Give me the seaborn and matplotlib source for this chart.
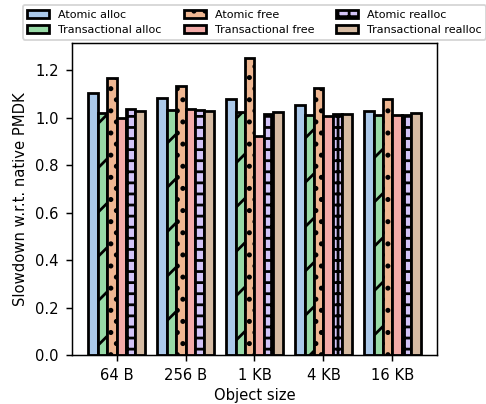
import pandas as pd
import matplotlib
matplotlib.use("Agg")
import matplotlib.pyplot as plt
import seaborn as sns

# Data
sizes = ["64 B", "256 B", "1 KB", "4 KB", "16 KB"]
series = ["Atomic alloc", "Transactional alloc", "Atomic free",
          "Transactional free", "Atomic realloc", "Transactional realloc"]

atomic_alloc = [1.104, 1.083, 1.080, 1.052, 1.030]
trans_alloc = [1.021, 1.034, 1.024, 1.012, 1.012]
atomic_free = [1.168, 1.132, 1.252, 1.125, 1.077]
trans_free = [1.000, 1.036, 0.923, 1.009, 1.012]
atomic_realloc = [1.037, 1.034, 1.016, 1.016, 1.012]
trans_realloc = [1.028, 1.030, 1.024, 1.016, 1.021]

values = [atomic_alloc, trans_alloc, atomic_free, trans_free, atomic_realloc, trans_realloc]
hatches = ["", "/", "..", "", "++", ""]

pal = sns.color_palette("pastel")
colors = [pal[0], pal[2], pal[1], pal[3], pal[4], pal[5]]

rows = []
for name, vals in zip(series, values):
    for size, v in zip(sizes, vals):
        rows.append({"size": size, "series": name, "slowdown": v})
df = pd.DataFrame(rows)

plt.rcParams['font.size'] = 8
plt.rcParams['hatch.linewidth'] = 1.5

fig = plt.figure(figsize=(486 / 133, 404 / 133), dpi=133)
ax = fig.add_axes([0.1475, 0.1213, 0.7523, 0.7723])

sns.barplot(data=df, x="size", y="slowdown", hue="series", hue_order=series,
            order=sizes, palette=colors, width=0.82, edgecolor="black",
            linewidth=1.5, legend=False, ax=ax)

for container, h in zip(ax.containers, hatches):
    for bar in container:
        bar.set_hatch(h)

ax.set_xlim(-0.65, 4.65)
ax.set_ylim(0, 1.315)
ax.set_xlabel("Object size", fontsize=8, labelpad=3)
ax.set_ylabel("Slowdown w.r.t. native PMDK", fontsize=8)

ax.legend(ax.containers, series, ncol=3, fontsize=6, loc="lower center",
          bbox_to_anchor=(0.5, 1.0), borderaxespad=0.3)

fig.savefig("out.png", dpi=133)
